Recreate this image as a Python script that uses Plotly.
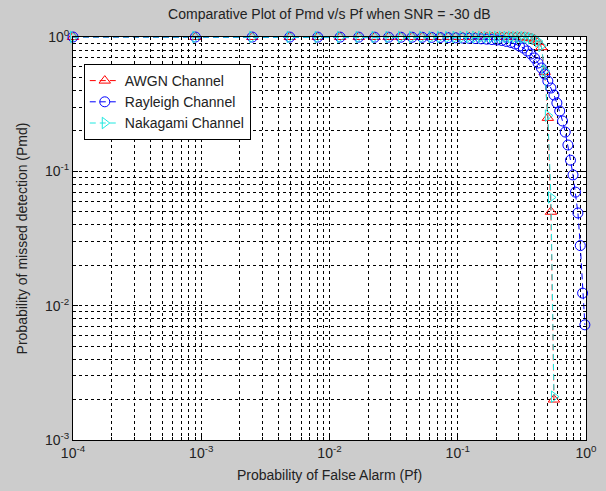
import plotly.graph_objects as go

# Probability of false alarm (x)
pf = [0.0001, 0.0009, 0.0025, 0.0049, 0.0081, 0.0121, 0.0169, 0.0225, 0.0289, 0.0361,
      0.0441, 0.0529, 0.0625, 0.0729, 0.0841, 0.0961, 0.1089, 0.1225, 0.1369, 0.1521,
      0.1681, 0.1849, 0.2025, 0.2209, 0.2401, 0.2601, 0.2809, 0.3025, 0.3249, 0.3481,
      0.3721, 0.3969, 0.4225, 0.4489, 0.4761, 0.5041, 0.5329, 0.5625, 0.5929, 0.6241,
      0.6561, 0.6889, 0.7225, 0.7569, 0.7921, 0.8281, 0.8649, 0.9025, 0.9409, 0.9801]

# Probability of missed detection (y)
pmd_awgn = [1.0, 1.0, 1.0, 1.0, 1.0, 1.0, 1.0, 1.0, 1.0, 1.0,
            1.0, 1.0, 1.0, 1.0, 1.0, 1.0, 1.0, 1.0, 1.0, 1.0,
            1.0, 1.0, 1.0, 0.9995, 0.999, 0.999, 0.998, 0.997, 0.995, 0.99,
            0.98, 0.96, 0.92, 0.84, 0.55, 0.25, 0.05, 0.002, None, None,
            None, None, None, None, None, None, None, None, None, None]

pmd_rayleigh = [1.0, 0.9995, 0.999, 0.999, 0.998, 0.998, 0.998, 0.997, 0.997, 0.996,
                0.996, 0.995, 0.993, 0.991, 0.989, 0.986, 0.982, 0.978, 0.974, 0.969,
                0.963, 0.957, 0.95, 0.942, 0.926, 0.91, 0.887, 0.857, 0.828, 0.787,
                0.747, 0.698, 0.64, 0.588, 0.53, 0.47, 0.417, 0.37, 0.323, 0.281,
                0.237, 0.196, 0.157, 0.121, 0.094, 0.07, 0.049, 0.028, 0.0124, 0.0072]

pmd_nakagami = [1.0, 1.0, 1.0, 1.0, 1.0, 1.0, 1.0, 1.0, 1.0, 1.0,
                1.0, 1.0, 1.0, 1.0, 1.0, 1.0, 1.0, 1.0, 1.0, 1.0,
                1.0, 1.0, 1.0, 0.9995, 0.999, 0.999, 0.998, 0.997, 0.995, 0.99,
                0.98, 0.965, 0.93, 0.86, 0.56, 0.26, 0.064, 0.0021, None, None,
                None, None, None, None, None, None, None, None, None, None]

x_decades = [1e-4, 1e-3, 1e-2, 1e-1, 1e0]
x_labels = ["10<sup>-4</sup>", "10<sup>-3</sup>", "10<sup>-2</sup>", "10<sup>-1</sup>", "10<sup>0</sup>"]
y_decades = [1e-3, 1e-2, 1e-1, 1e0]
y_labels = ["10<sup>-3</sup>", "10<sup>-2</sup>", "10<sup>-1</sup>", "10<sup>0</sup>"]

FONT = "Arial, Liberation Sans, Helvetica, sans-serif"
RED = "#ff0000"
BLUE = "#0000ff"
CYAN = "#20e8e0"

def minor_vals(decades):
    vals = []
    for d in decades[:-1]:
        for m in range(2, 10):
            vals.append(d * m)
    return vals

fig = go.Figure()
series = [
    ("AWGN Channel", pmd_awgn, RED, "triangle-up-open"),
    ("Rayleigh Channel", pmd_rayleigh, BLUE, "circle-open"),
    ("Nakagami Channel", pmd_nakagami, CYAN, "triangle-right-open"),
]
for name, ys, col, sym in series:
    fig.add_trace(go.Scatter(
        x=pf, y=ys, name=name, mode="lines+markers",
        line=dict(color=col, width=1, dash="6px,4px"),
        marker=dict(symbol=sym, size=10, color=col, line=dict(color=col, width=1)),
        cliponaxis=False,
    ))

axis_common = dict(
    type="log",
    automargin=False,
    showline=True, linecolor="black", linewidth=1, mirror="ticks",
    ticks="inside", ticklen=5, tickcolor="black",
    showgrid=True, gridcolor="black", gridwidth=1, griddash="3px,3px",
    zeroline=False,
    tickfont=dict(family=FONT, size=14, color="#222"),
    tickmode="array",
)

fig.update_xaxes(
    **axis_common,
    range=[-4, 0],
    tickvals=x_decades, ticktext=x_labels,
    minor=dict(tickmode="array", tickvals=minor_vals(x_decades), ticks="inside", ticklen=3,
               tickcolor="black", showgrid=True, gridcolor="black", gridwidth=1, griddash="3px,3px"),
    title=dict(text="Probability of False Alarm (Pf)", font=dict(family=FONT, size=14, color="#222"), standoff=10),
)
fig.update_yaxes(
    **axis_common,
    range=[-3, 0],
    tickvals=y_decades, ticktext=y_labels,
    minor=dict(tickmode="array", tickvals=minor_vals(y_decades), ticks="inside", ticklen=3,
               tickcolor="black", showgrid=True, gridcolor="black", gridwidth=1, griddash="3px,3px"),
    title=dict(text="Probability of missed detection (Pmd)", font=dict(family=FONT, size=14, color="#222"), standoff=14),
)

fig.update_layout(
    width=606, height=491,
    margin=dict(l=73, r=20, t=37, b=51),
    paper_bgcolor="#cccccc",
    plot_bgcolor="white",
    title=dict(text="Comparative Plot of Pmd v/s Pf when SNR = -30 dB",
               x=0.5435, xanchor="center", y=0.982, yanchor="top",
               font=dict(family=FONT, size=14, color="#222")),
    showlegend=True,
    legend=dict(x=0.021, y=0.933, xanchor="left", yanchor="top",
                bgcolor="white", bordercolor="black", borderwidth=1,
                font=dict(family=FONT, size=14, color="#222"),
                tracegroupgap=0),
)

fig.write_html("out.html")
